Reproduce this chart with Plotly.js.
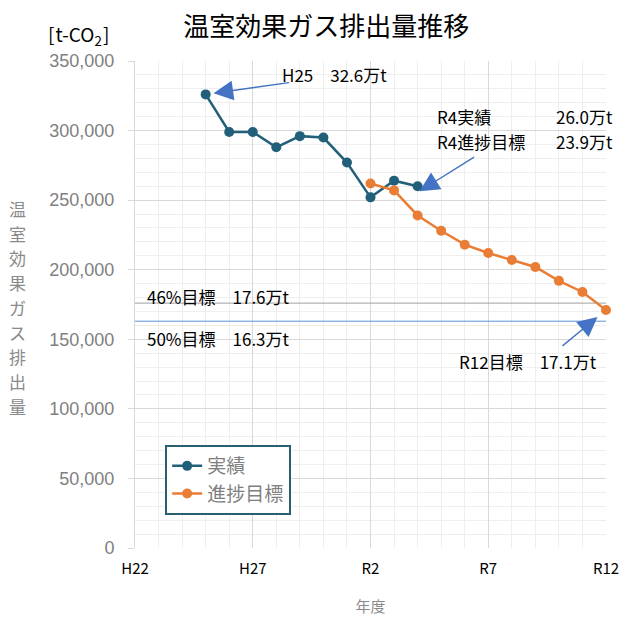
<!DOCTYPE html>
<html>
<head>
<meta charset="utf-8">
<script src="https://cdn.plot.ly/plotly-3.0.1.min.js"></script>
<style>html,body{margin:0;padding:0;background:#fff;}#chart{width:619px;height:622px;}</style>
</head>
<body>
<div id="chart"></div>
<script>
// ---- data ----
const categories = ['H22','H23','H24','H25','H26','H27','H28','H29','H30','R1','R2','R3','R4','R5','R6','R7','R8','R9','R10','R11','R12'];
const tickLabels = ['H22','H27','R2','R7','R12'];
const actual = [null,null,null,326000,299000,299000,288000,296000,295000,277000,252000,264000,260000,null,null,null,null,null,null,null,null];
const target = [null,null,null,null,null,null,null,null,null,null,262000,257000,239000,228000,218000,212000,207000,202000,192000,184000,171000];
const goal46 = 176000;
const goal50 = 163000;
const seriesNames = ['実績','進捗目標'];
const yTitle = '温室効果ガス排出量';

// ---- build ----
const xIdx = categories.map((c,i)=>i);
const tickIdx = tickLabels.map(t=>categories.indexOf(t));
const last = categories.length-1;
const JP = '"Noto Sans CJK JP", "Noto Sans", sans-serif';
const colActual = '#22607a';
const colTarget = '#ea7d35';

const traces = [
  {x:[0,last], y:[goal46,goal46], mode:'lines', line:{color:'#a0a0a0', width:1}, showlegend:false, hoverinfo:'skip', cliponaxis:false},
  {x:[0,last], y:[goal50,goal50], mode:'lines', line:{color:'#5b95d5', width:1}, showlegend:false, hoverinfo:'skip', cliponaxis:false},
  {x:xIdx, y:actual, name:seriesNames[0], mode:'lines+markers', line:{color:colActual, width:2.5}, marker:{color:colActual, size:10}, cliponaxis:false},
  {x:xIdx, y:target, name:seriesNames[1], mode:'lines+markers', line:{color:colTarget, width:2.5}, marker:{color:colTarget, size:10}, cliponaxis:false}
];

const iH25 = categories.indexOf('H25');
const iR4 = categories.indexOf('R4');
const iR12 = categories.indexOf('R12');
const arrowCol = '#4472c4';
const txt = (text,x,y,xanchor,size,color) => ({text, x, y, xref:'paper', yref:'paper', xanchor, yanchor:'middle', showarrow:false, font:{family:JP, size:size||17, color:color||'#000'}});
const arrow = (x,y,ax,ay,extra) => Object.assign({x, y, xref:'x', yref:'y', text:'', showarrow:true, ax, ay, arrowhead:2, arrowsize:2.8, arrowwidth:1.4, arrowcolor:arrowCol}, extra||{});

const annotations = [
  txt('H25　32.6万t', 0.307, 0.973, 'left', 17),
  txt('R4実績', 0.636, 0.887, 'left', 17),
  txt('26.0万t', 1.02, 0.887, 'right', 17),
  txt('R4進捗目標', 0.636, 0.834, 'left', 17),
  txt('23.9万t', 1.02, 0.834, 'right', 17),
  txt('46%目標　17.6万t', 0.021, 0.517, 'left', 17),
  txt('50%目標　16.3万t', 0.021, 0.431, 'left', 17),
  txt('R12目標　17.1万t', 0.985, 0.382, 'right', 17),
  arrow(iH25, actual[iH25], 85, -12, {standoff:8}),
  arrow(iR4, actual[iR4], 56, -35, {standoff:0, xshift:2, yshift:-5}),
  arrow(iR12, target[iR12], -45, 37, {standoff:11}),
  txt('[&#8202;t-CO<sub>2</sub>&#8202;]', -0.12, 1.053, 'center', 19)
];
// vertical (stacked) y-axis title, one character per line
const chars = Array.from(yTitle);
chars.forEach((ch,i)=>{
  annotations.push({text:ch, x:-0.249, y:0.494 + (chars.length/2 - i - 0.5)*0.0508, xref:'paper', yref:'paper', xanchor:'center', yanchor:'middle', showarrow:false, borderpad:0, font:{family:JP, size:17, color:'#8a8a8a'}});
});

const layout = {
  width:619, height:622,
  margin:{l:135, r:13, t:61, b:74},
  paper_bgcolor:'#fff', plot_bgcolor:'#fff',
  title:{text:'温室効果ガス排出量推移', x:0.527, xref:'container', xanchor:'center', y:0.957, yref:'container', yanchor:'middle', font:{family:JP, size:26, color:'#000'}},
  xaxis:{
    range:[0,last], tickvals:tickIdx, ticktext:tickLabels, showgrid:true, gridcolor:'#d9d9d9', gridwidth:1,
    zeroline:false, showline:false, ticks:'', tickfont:{family:JP, size:15, color:'#000'},
    ticklabelstandoff:10, ticklabeloverflow:'allow',
    minor:{dtick:1, showgrid:true, gridcolor:'#eeeeee', gridwidth:1},
    title:{text:'年度', font:{family:JP, size:15, color:'#8a8a8a'}, standoff:24}, automargin:false
  },
  yaxis:{
    range:[0,350000], dtick:50000, tickformat:',d', showgrid:true, gridcolor:'#d9d9d9', gridwidth:1,
    zeroline:false, showline:true, linecolor:'#d9d9d9', ticks:'outside', ticklen:6, tickcolor:'#d9d9d9',
    ticklabelstandoff:10,
    tickfont:{family:'"Liberation Sans", Arial, sans-serif', size:18, color:'#808080'},
    minor:{dtick:10000, showgrid:true, gridcolor:'#eeeeee', gridwidth:1}, automargin:false
  },
  showlegend:true,
  legend:{x:0.064, y:0.2115, xanchor:'left', yanchor:'top', bgcolor:'#fff', bordercolor:'#2a5f6e', borderwidth:2,
    font:{family:JP, size:19, color:'#7f7f7f'}, traceorder:'normal', itemwidth:30, tracegroupgap:0},
  annotations: annotations
};

Plotly.newPlot('chart', traces, layout, {staticPlot:true, displayModeBar:false});
</script>
</body>
</html>
